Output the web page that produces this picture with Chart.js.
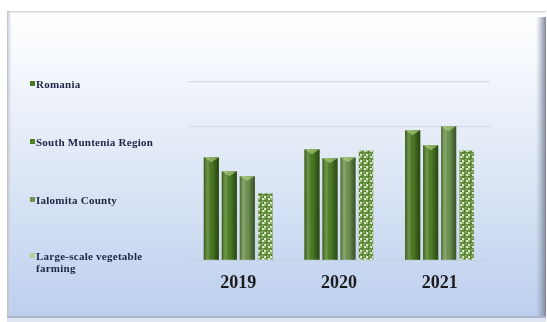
<!DOCTYPE html>
<html>
<head>
<meta charset="utf-8">
<script src="https://cdn.jsdelivr.net/npm/chart.js@4"></script>
<style>
  html, body { margin: 0; padding: 0; background: #ffffff; }
  #wrap { position: relative; width: 547px; height: 322px; overflow: hidden; }
  #chart { position: absolute; left: 0; top: 0; }
  .lg { position: absolute; font-family: "Liberation Serif", "DejaVu Serif", serif; font-weight: bold;
        font-size: 11px; letter-spacing: 0.25px; color: #1d2544; line-height: 12px; white-space: nowrap; }
  .lg i { position: absolute; left: -6px; top: 3px; width: 5px; height: 5px; }
</style>
</head>
<body>
<div id="wrap">
  <canvas id="chart" width="547" height="322"></canvas>
</div>
<script>
// Years on the category axis
const years = ['2019', '2020', '2021'];

// Series names (the last one wraps onto two lines in the legend)
const seriesNames = ['Romania', 'South Muntenia Region', 'Ialomita  County', ['Large-scale vegetable', 'farming']];

// Values per series, one per year
const romania = [2.31, 2.49, 2.92];
const southMuntenia = [2.00, 2.29, 2.58];
const ialomita = [1.89, 2.31, 3.01];
const largeScale = [1.51, 2.47, 2.47];

// Value-axis lines that are drawn on the plot
const shownGridValues = [3, 4];

const baseColors = ['#4a7923', '#4d7e26', '#6c9250'];

// Dotted fill for the vegetable-farming series
function dotPattern() {
  const c = document.createElement('canvas');
  c.width = 6; c.height = 6;
  const g = c.getContext('2d');
  g.fillStyle = '#dbe7c9';
  g.fillRect(0, 0, 6, 6);
  const dot = (cx, cy) => {
    g.fillStyle = '#4f7a2c';
    g.beginPath(); g.arc(cx, cy, 2.4, 0, Math.PI * 2); g.fill();
    g.fillStyle = '#8fb862';
    g.beginPath(); g.arc(cx - 0.4, cy - 0.4, 1.2, 0, Math.PI * 2); g.fill();
  };
  dot(1.5, 1.5);
  dot(4.5, 4.5);
  return g.createPattern(c, 'repeat');
}

const ctx = document.getElementById('chart').getContext('2d');

// Framed panel with a white-to-blue vertical gradient
const panelBackground = {
  id: 'panelBackground',
  beforeDraw(chart) {
    const c = chart.ctx;
    c.save();
    c.fillStyle = '#ffffff';
    c.fillRect(0, 0, chart.width, chart.height);
    const x0 = 7, y0 = 11, x1 = 546, y1 = 318;
    const grad = c.createLinearGradient(0, y0, 0, y1);
    grad.addColorStop(0, '#ffffff');
    grad.addColorStop(0.15, '#f6f9fd');
    grad.addColorStop(0.5, '#dfe8f6');
    grad.addColorStop(1, '#bccfee');
    c.fillStyle = grad;
    c.fillRect(x0, y0, x1 - x0, y1 - y0);
    // top edge
    c.fillStyle = '#d6d9de';
    c.fillRect(x0, y0, x1 - x0, 1.5);
    // left bevel
    const lg = c.createLinearGradient(x0, 0, x0 + 5, 0);
    lg.addColorStop(0, '#b9bec8');
    lg.addColorStop(1, 'rgba(220,226,236,0)');
    c.fillStyle = lg;
    c.fillRect(x0, y0, 5, y1 - y0);
    // right bevel
    const rg = c.createLinearGradient(x1 - 10, 0, x1, 0);
    rg.addColorStop(0, 'rgba(150,160,180,0)');
    rg.addColorStop(1, '#7d8799');
    c.fillStyle = rg;
    c.fillRect(x1 - 10, y0 + 6, 10, y1 - y0 - 6);
    // bottom edge
    c.fillStyle = '#aab6cc';
    c.fillRect(x0, y1 - 2, x1 - x0, 2);
    c.fillStyle = '#dfe6f2';
    c.fillRect(x0, y1, x1 - x0, chart.height - y1);
    c.restore();
  }
};

// Cylinder shading over the solid bars
const barShading = {
  id: 'barShading',
  afterDatasetsDraw(chart) {
    const c = chart.ctx;
    chart.data.datasets.forEach((ds, di) => {
      if (di > 2) return;
      const meta = chart.getDatasetMeta(di);
      meta.data.forEach(bar => {
        const { x, y, base, width } = bar.getProps(['x', 'y', 'base', 'width'], true);
        const l = x - width / 2, r = x + width / 2;
        const g = c.createLinearGradient(l, 0, r, 0);
        g.addColorStop(0, 'rgba(20,40,5,0.45)');
        g.addColorStop(0.3, 'rgba(255,255,220,0.18)');
        g.addColorStop(0.55, 'rgba(0,0,0,0)');
        g.addColorStop(1, 'rgba(15,30,5,0.55)');
        c.save();
        c.fillStyle = g;
        c.fillRect(l, y, width, base - y);
        // pointed cap
        c.fillStyle = 'rgba(190,220,140,0.55)';
        c.beginPath();
        c.moveTo(l, y); c.lineTo(r, y); c.lineTo(x, y + 5); c.closePath();
        c.fill();
        c.restore();
      });
    });
  }
};

const chart = new Chart(ctx, {
  type: 'bar',
  data: {
    labels: years,
    datasets: [
      { label: seriesNames[0], data: romania, backgroundColor: baseColors[0] },
      { label: seriesNames[1], data: southMuntenia, backgroundColor: baseColors[1] },
      { label: seriesNames[2], data: ialomita, backgroundColor: baseColors[2] },
      { label: seriesNames[3], data: largeScale, backgroundColor: dotPattern(),
        borderColor: '#8fae70', borderWidth: 0.5 }
    ]
  },
  options: {
    responsive: false,
    animation: false,
    devicePixelRatio: 1,
    layout: { padding: { left: 188, right: 57, top: 82, bottom: 16 } },
    datasets: { bar: { categoryPercentage: 0.715, barPercentage: 0.84 } },
    plugins: { legend: { display: false }, tooltip: { enabled: false } },
    scales: {
      x: {
        grid: { display: false, drawTicks: false },
        border: { display: true, color: '#c3cedd', width: 1 },
        ticks: {
          color: '#1b1b1b', padding: 12,
          font: { family: '"Liberation Serif", serif', size: 18, weight: 'bold' }
        }
      },
      y: {
        min: 0, max: 4,
        ticks: { display: false, stepSize: 1 },
        border: { display: false },
        grid: {
          drawTicks: false,
          color: c => shownGridValues.includes(c.tick && c.tick.value) ? '#d3dbe6' : 'rgba(0,0,0,0)',
          lineWidth: 1.2
        }
      }
    }
  },
  plugins: [panelBackground, barShading]
});

// Legend built from the series names and colors
const legendTops = [78, 136, 194, 250];
const legendSwatch = ['#4a7923', '#4d7e26', '#6c9250', '#b5cf96'];
const wrap = document.getElementById('wrap');
seriesNames.forEach((name, i) => {
  const d = document.createElement('div');
  d.className = 'lg';
  d.style.left = '36px';
  d.style.top = legendTops[i] + 'px';
  const sw = document.createElement('i');
  sw.style.background = legendSwatch[i];
  d.appendChild(sw);
  const lines = Array.isArray(name) ? name : [name];
  lines.forEach(t => {
    const s = document.createElement('div');
    s.textContent = t;
    d.appendChild(s);
  });
  wrap.appendChild(d);
});
</script>
</body>
</html>
